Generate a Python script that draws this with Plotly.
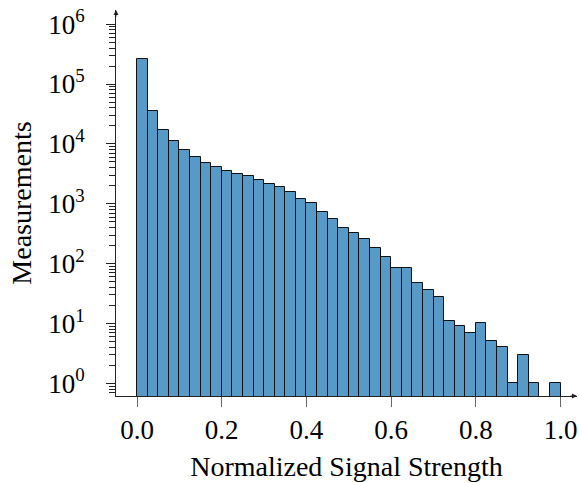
import numpy as np
import plotly.graph_objects as go

# Histogram bins (normalized signal strength, 40 bins from 0 to 1)
bin_edges = np.linspace(0.0, 1.0, 41)
counts = [259000, 35900, 17300, 11000, 7900, 6110, 4850, 4060, 3520, 3100,
          2940, 2520, 2160, 1880, 1590, 1215, 1030, 719, 556, 398,
          330, 256, 184, 130, 84, 85, 47, 36, 28, 11,
          9, 7, 10, 5, 4, 1, 3, 1, 0, 1]

x_tickvals = [0.0, 0.2, 0.4, 0.6, 0.8, 1.0]
x_ticktext = ["0.0", "0.2", "0.4", "0.6", "0.8", "1.0"]
y_exponents = [0, 1, 2, 3, 4, 5, 6]

centers = (bin_edges[:-1] + bin_edges[1:]) / 2
widths = np.diff(bin_edges)
yvals = [c if c > 0 else None for c in counts]

y_tickvals = [10 ** e for e in y_exponents]
y_ticktext = [f"10<sup>{e}</sup>" for e in y_exponents]
minor_vals = [m * 10 ** e for e in range(-1, 7) for m in range(2, 10)]

FONT = "Liberation Serif"
AX = "#222222"

fig = go.Figure()
fig.add_trace(go.Bar(
    x=centers, y=yvals, width=widths,
    marker=dict(color="rgb(87,153,199)", line=dict(color="#111111", width=1)),
    showlegend=False,
))

fig.update_layout(
    width=579, height=483,
    margin=dict(l=116, r=2, t=10, b=87),
    plot_bgcolor="white", paper_bgcolor="white",
    font=dict(family=FONT, size=27, color="black"),
    bargap=0,
)

fig.update_xaxes(
    range=[-0.0496, 1.0387], automargin=False,
    tickmode="array", tickvals=x_tickvals, ticktext=x_ticktext,
    ticks="outside", ticklen=10, tickcolor="#666666", tickwidth=1,
    showline=True, linecolor=AX, linewidth=1,
    showgrid=False, zeroline=False,
    ticklabelstandoff=0, ticklabeloverflow="allow",
    title=dict(text="Normalized Signal Strength", standoff=11,
               font=dict(family=FONT, size=28)),
    tickfont=dict(family=FONT, size=27),
)

fig.update_yaxes(
    type="log", automargin=False,
    range=[-0.212, 6.237],
    tickmode="array", tickvals=y_tickvals, ticktext=y_ticktext,
    ticks="outside", ticklen=9, tickcolor=AX, tickwidth=1,
    minor=dict(tickmode="array", tickvals=minor_vals, ticks="outside",
               ticklen=6, tickcolor=AX, tickwidth=1),
    showline=True, linecolor=AX, linewidth=1,
    showgrid=False, zeroline=False,
    ticklabelstandoff=16, ticklabeloverflow="allow",
    title=dict(text="Measurements", standoff=8,
               font=dict(family=FONT, size=28)),
    tickfont=dict(family=FONT, size=27),
)

# arrow heads on the axes
fig.add_annotation(x=1, y=0, xref="paper", yref="paper", ax=-8, ay=0,
                   axref="pixel", ayref="pixel", showarrow=True, arrowhead=2,
                   arrowsize=1, arrowwidth=1, arrowcolor=AX, text="")
fig.add_annotation(x=0, y=1, xref="paper", yref="paper", ax=0, ay=8,
                   axref="pixel", ayref="pixel", showarrow=True, arrowhead=2,
                   arrowsize=1, arrowwidth=1, arrowcolor=AX, text="")

fig.write_html("out.html",
               config={"displayModeBar": False},
               post_script="document.body.style.margin='0';"
                           "document.body.style.overflow='hidden';")
